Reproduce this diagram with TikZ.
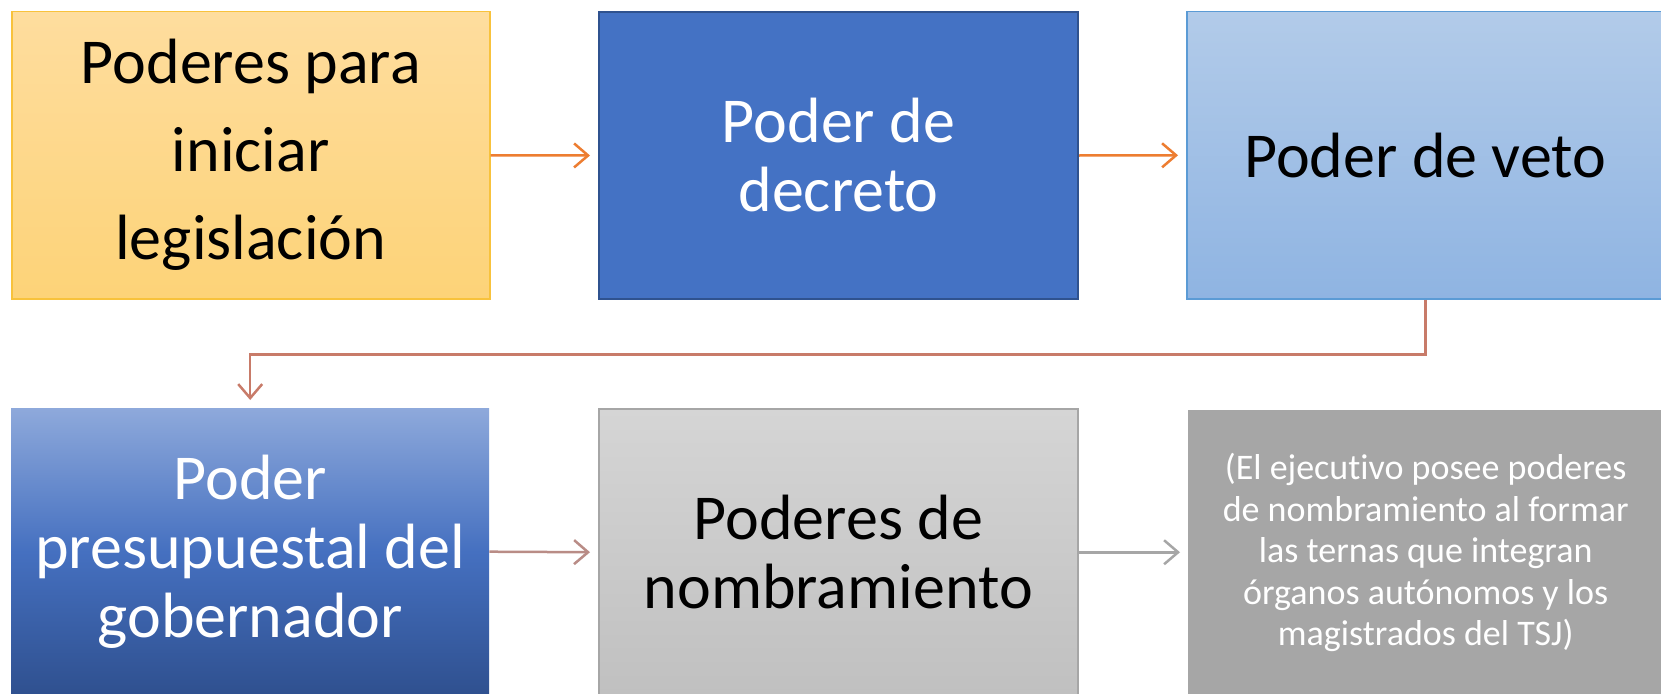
\documentclass[tikz,border=0pt]{standalone}
\usepackage{fontspec}
\setmainfont[Ligatures=NoCommon]{Carlito}
\usetikzlibrary{arrows.meta}
\definecolor{orA}{HTML}{ED7D31}
\definecolor{orB}{HTML}{C87B69}
\definecolor{orC}{HTML}{B98C86}
\definecolor{grA}{HTML}{A6A6A6}
\definecolor{yBorder}{HTML}{F8C23C}
\definecolor{yTop}{HTML}{FEDD9E}
\definecolor{yBot}{HTML}{FDD378}
\definecolor{bBorder}{HTML}{2F528F}
\definecolor{bFill}{HTML}{4472C4}
\definecolor{lbBorder}{HTML}{5B9BD5}
\definecolor{lbTop}{HTML}{B2CBE9}
\definecolor{lbBot}{HTML}{8FB4E2}
\definecolor{dbTop}{HTML}{8EA9DB}
\definecolor{dbMid}{HTML}{4570C0}
\definecolor{dbBot}{HTML}{2F508F}
\definecolor{gTop}{HTML}{D5D5D5}
\definecolor{gBot}{HTML}{C0C0C0}
\tikzset{
  box/.style={rectangle, inner sep=0pt, anchor=north west, align=center,
    font=\fontsize{64}{69}\selectfont},
  conn/.style={line width=2.5pt, -{Straight Barb[length=14pt,width=24pt,line width=2.5pt]}, shorten >=8pt},
}
\begin{document}
\begin{tikzpicture}[x=1pt,y=-1pt]
\clip (0,0) rectangle (1661,693);
\fill[white] (0,0) rectangle (1661,693);
\node[box, draw=yBorder, line width=1.5pt, top color=yTop, bottom color=yBot,
  minimum width=478pt, minimum height=287pt, text=black,
  font=\fontsize{64}{88}\selectfont] (b1) at (11,11) {Poderes para\\iniciar\\legislación};
\node[box, draw=bBorder, line width=2pt, fill=bFill,
  minimum width=479pt, minimum height=287pt, text=white] (b2) at (598,11) {Poder de\\decreto};
\node[box, draw=lbBorder, line width=1.5pt, top color=lbTop, bottom color=lbBot,
  minimum width=477pt, minimum height=287pt, text=black] (b3) at (1186,11) {Poder de veto};
\node[box, top color=dbTop, bottom color=dbBot, middle color=dbMid,
  minimum width=478pt, minimum height=287pt, text=white] (b4) at (11,408) {Poder\\presupuestal del\\gobernador};
\node[box, draw=grA, line width=1.5pt, top color=gTop, bottom color=gBot,
  minimum width=479pt, minimum height=287pt, text=black] (b5) at (598,408) {Poderes de\\nombramiento};
\node[box, fill=grA, minimum width=475pt, minimum height=285pt, text=white,
  font=\fontsize{36}{41.6}\selectfont] (b6) at (1188,410) {(El ejecutivo posee poderes\\de nombramiento al formar\\las ternas que integran\\órganos autónomos y los\\magistrados del TSJ)};
\draw[conn, orA] (b1.east) -- (b2.west);
\draw[conn, orA] (b2.east) -- (b3.west);
\draw[conn, orB] (b3.south) -- ++(0,55) coordinate (k) -| (b4.north);
\draw[conn, orC] (b4.east) -- (b5.west);
\draw[conn, grA] (b5.east) -- (b6.west |- b5.east);
\end{tikzpicture}
\end{document}
